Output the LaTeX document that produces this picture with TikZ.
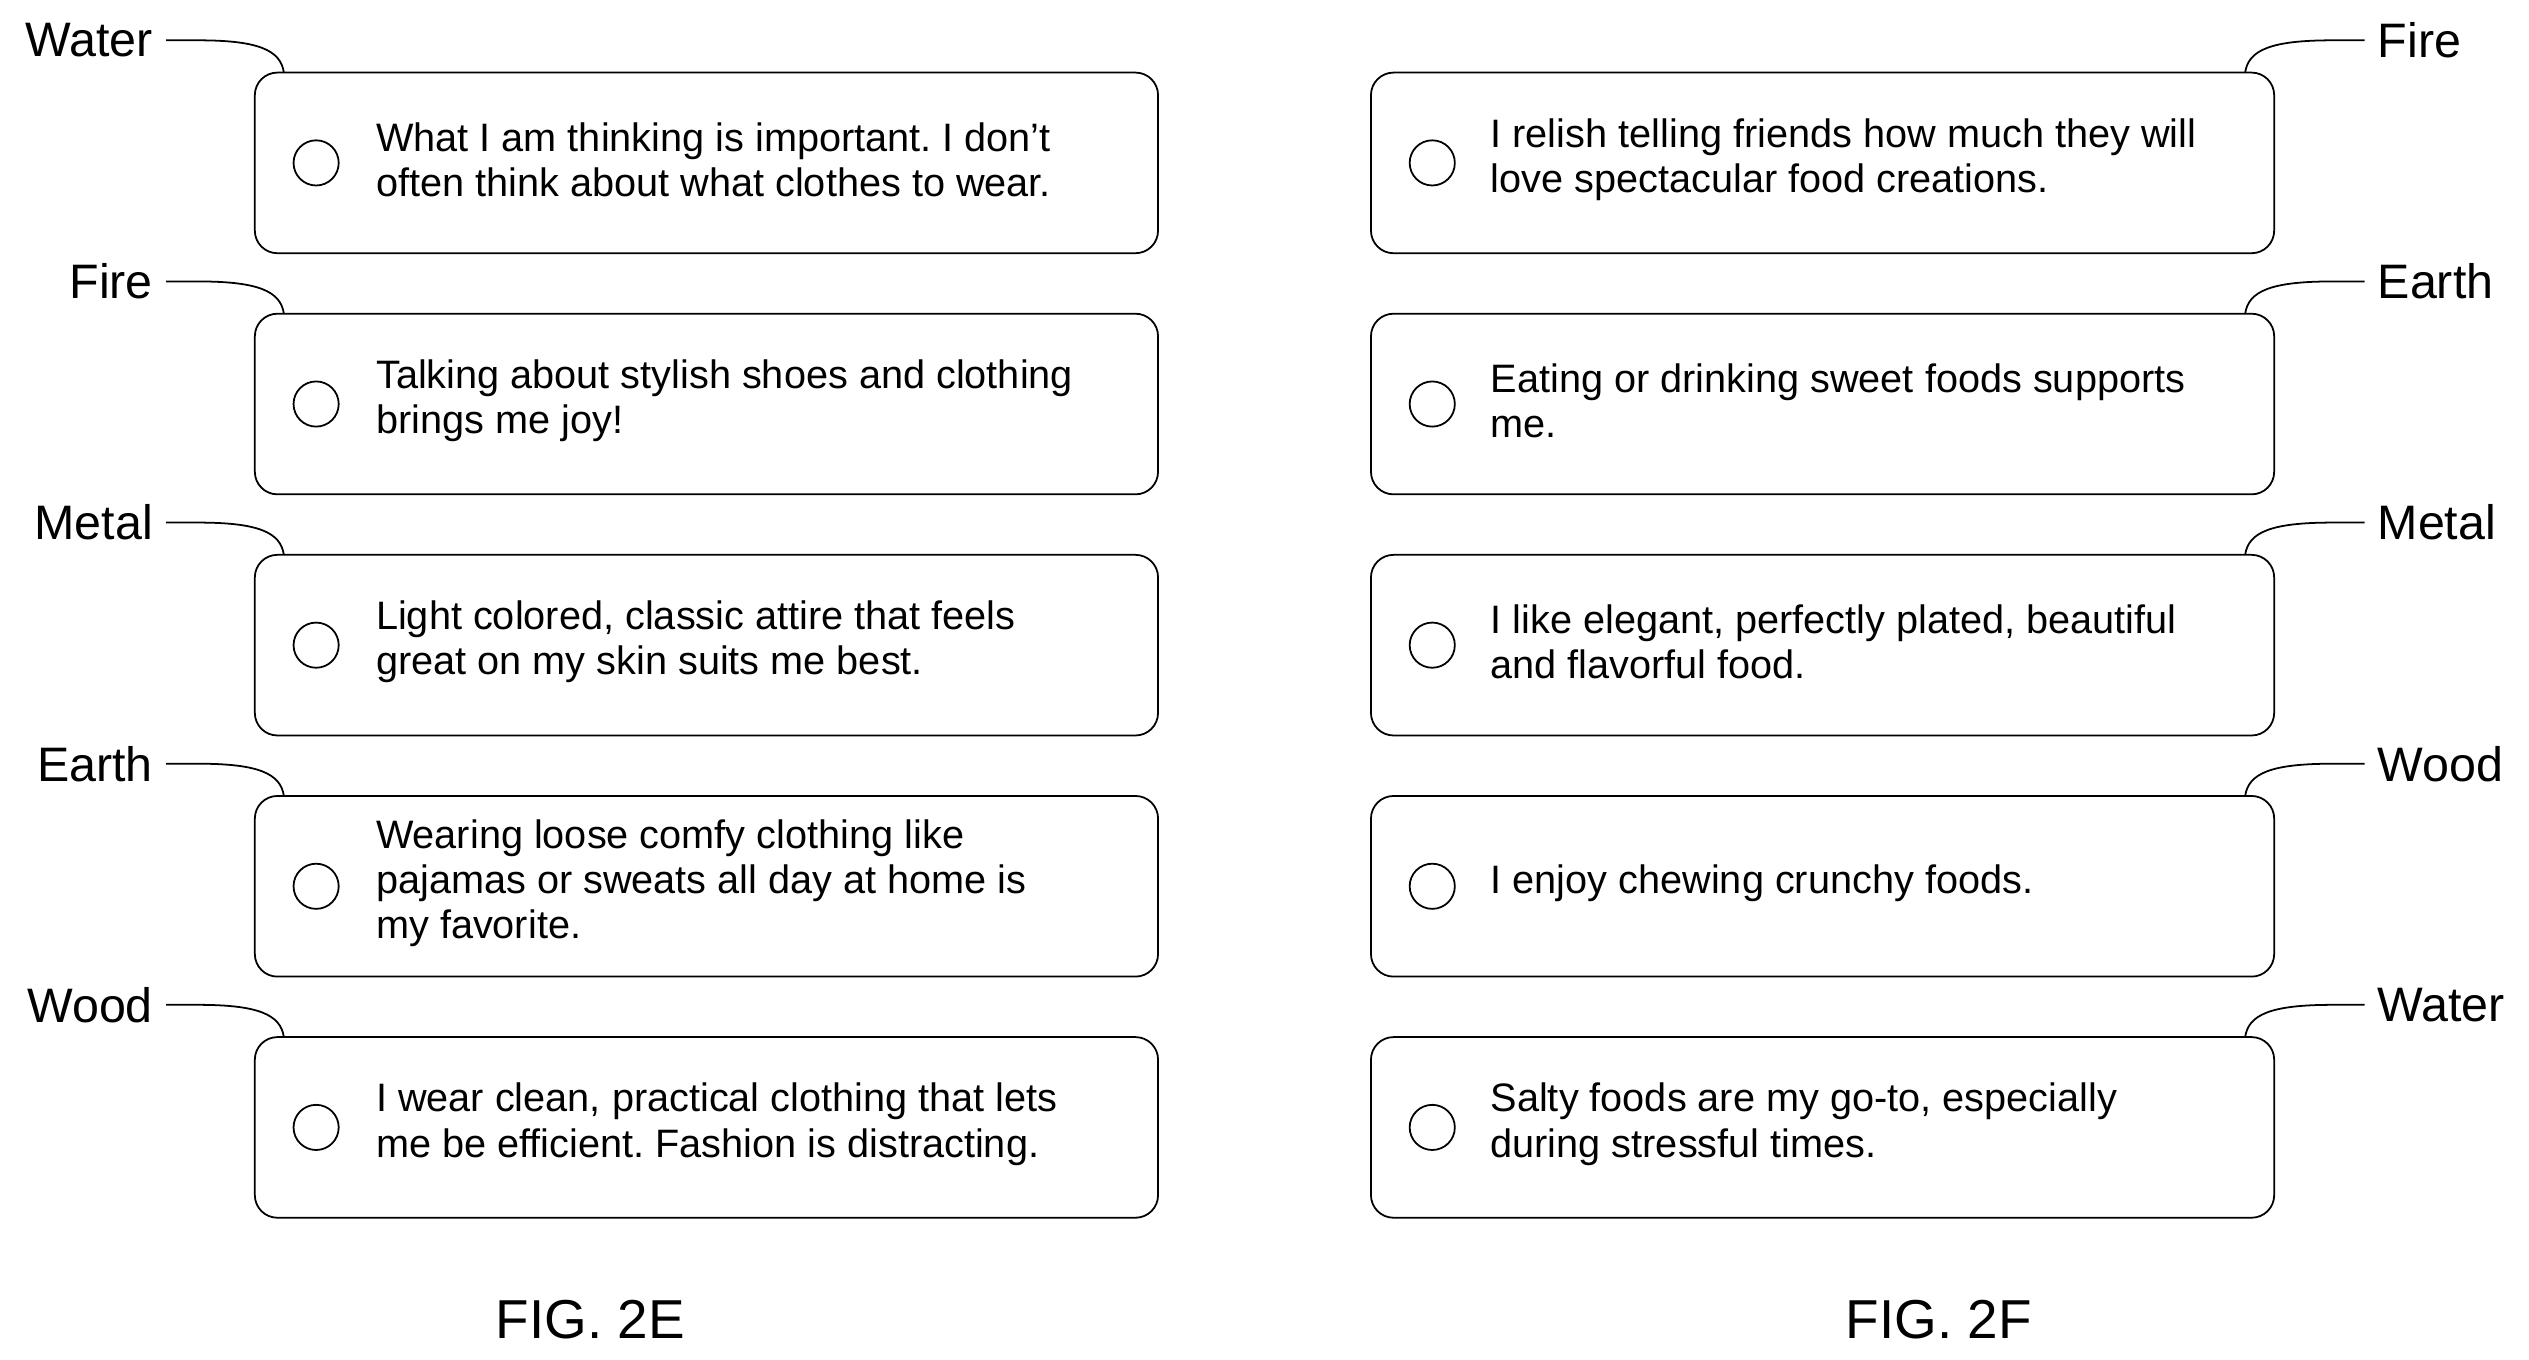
\documentclass[tikz,border=0pt]{standalone}
\usepackage{fontspec}
\setmainfont{Liberation Sans}
\frenchspacing
\begin{document}
\begin{tikzpicture}[x=1pt,y=-1pt,
  box/.style={draw,line width=1.1pt,rounded corners=14pt},
  circ/.style={draw,line width=1.1pt,circle,minimum size=28pt,inner sep=0pt},
  txt/.style={anchor=west,align=left,font=\fontsize{24.6}{28}\selectfont,inner sep=0pt},
  lab/.style={font=\fontsize{30}{34}\selectfont,inner sep=0pt},
  lead/.style={line width=1.1pt},
  fig/.style={font=\fontsize{34}{40}\selectfont}]
\useasboundingbox (0,0) rectangle (1568,843);
\def\rows{0/Water/{What I am thinking is important. I don{\char"27}t\\often think about what clothes to wear.}/Fire/{I relish telling friends how much they will\\love spectacular food creations.},
1/Fire/{Talking about stylish shoes and clothing\\brings me joy!}/Earth/{Eating or drinking sweet foods supports\\me.},
2/Metal/{Light colored, classic attire that feels\\great on my skin suits me best.}/Metal/{I like elegant, perfectly plated, beautiful\\and flavorful food.},
3/Earth/{Wearing loose comfy clothing like\\pajamas or sweats all day at home is\\my favorite.}/Wood/{I enjoy chewing crunchy foods.},
4/Wood/{I wear clean, practical clothing that lets\\me be efficient. Fashion is distracting.}/Water/{Salty foods are my go-to, especially\\during stressful times.}}
\foreach \i/\la/\ta/\lb/\tb in \rows {
  \pgfmathsetmacro{\t}{45+149.5*\i}
  \draw[box] (158,\t) rectangle (718,\t+112);
  \node[circ] (ca\i) at (196,\t+56) {};
  \node[txt] (ta\i) at (233,\t+54) {\ta};
  \node[lab,anchor=east] (la\i) at (95,\t-20) {\la};
  \coordinate (ea\i) at (176,\t);
  \draw[lead] (la\i.east) ++(8,0) coordinate (sa\i) -- ++(20,0) .. controls (160,\t-20) and (174,\t-14) .. (ea\i);
  \draw[box] (850,\t) rectangle (1410,\t+112);
  \node[circ] (cb\i) at (888,\t+56) {};
  \node[txt] (tb\i) at (924,\t+54) {\tb};
  \node[lab,anchor=west] (lb\i) at (1474,\t-20) {\lb};
  \coordinate (eb\i) at (1392,\t);
  \draw[lead] (lb\i.west) ++(-8,0) -- ++(-20,0) .. controls (1408,\t-20) and (1394,\t-14) .. (eb\i);
}
\node[fig] (f1) at (366,818) {FIG. 2E};
\node[fig] (f2) at (1202,818) {FIG. 2F};
\end{tikzpicture}
\end{document}
